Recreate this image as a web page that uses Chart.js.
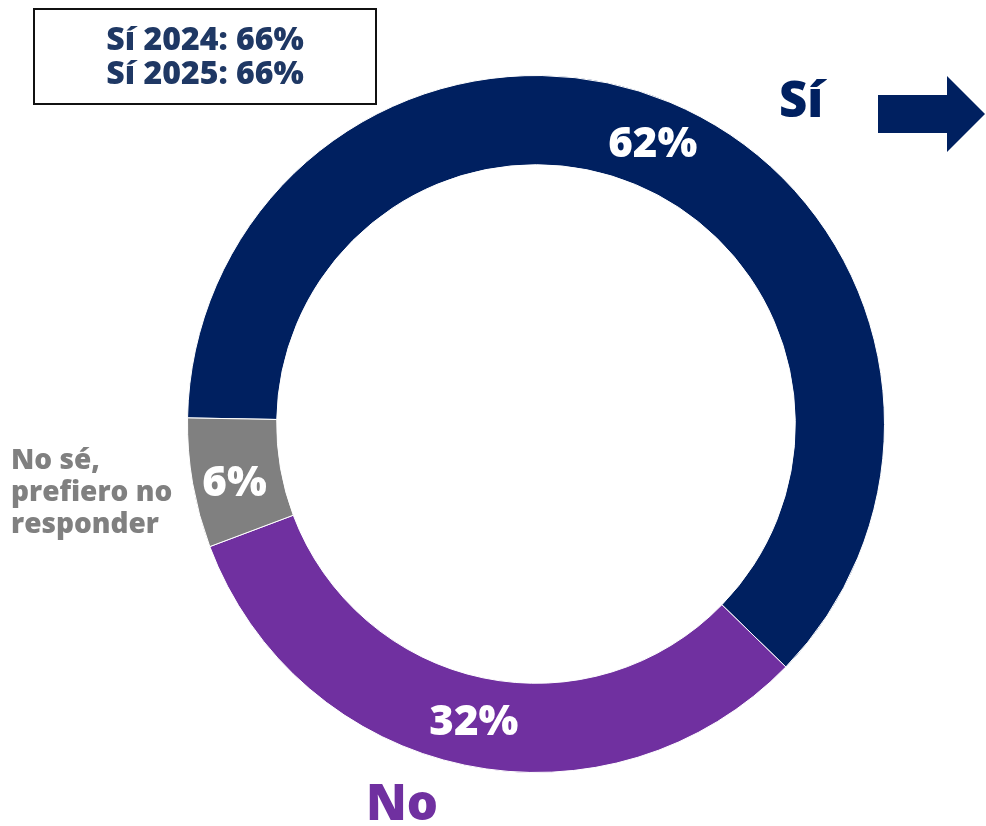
<!DOCTYPE html>
<html>
<head>
<meta charset="utf-8">
<script src="https://cdn.jsdelivr.net/npm/chart.js@4/dist/chart.umd.min.js"></script>
<style>
  html, body { margin: 0; padding: 0; background: #fff; }
  #wrap { position: relative; width: 986px; height: 826px; }
</style>
</head>
<body>
<div id="wrap"><canvas id="donut"></canvas></div>
<script>
const labels = ['Sí', 'No', 'No sé, prefiero no responder'];
const values = [62, 32, 6];
const colors = ['#002060', '#7030A0', '#808080'];
const boxLines = ['Sí 2024: 66%', 'Sí 2025: 66%'];

const FONT = '"Open Sans", "DejaVu Sans", sans-serif';

const overlay = {
  id: 'overlay',
  afterDatasetsDraw(chart) {
    const ctx = chart.ctx;
    const arcs = chart.getDatasetMeta(0).data;
    ctx.save();
    ctx.textAlign = 'center';
    ctx.textBaseline = 'middle';

    // value labels inside the ring
    ctx.fillStyle = '#fff';
    ctx.font = '800 42px ' + FONT;
    arcs.forEach((arc, i) => {
      const p = arc.tooltipPosition();
      const dy = i === 2 ? 8 : 2;
      ctx.fillText(values[i] + '%', p.x - (i === 2 ? 2 : 0), p.y + dy);
    });

    // category names
    ctx.font = '800 49px ' + FONT;
    ctx.fillStyle = colors[0];
    ctx.fillText(labels[0], 801, 103);
    ctx.fillStyle = colors[1];
    ctx.fillText(labels[1], 402, 806);

    ctx.font = '800 28px ' + FONT;
    ctx.fillStyle = colors[2];
    ctx.textAlign = 'left';
    ['No sé,', 'prefiero no', 'responder'].forEach((t, i) => {
      ctx.fillText(t, 11, 461 + i * 32);
    });

    // summary box
    ctx.lineWidth = 2;
    ctx.strokeStyle = '#111';
    ctx.strokeRect(34, 9, 342, 95);
    ctx.textAlign = 'center';
    ctx.fillStyle = '#1F3864';
    ctx.font = '800 32px ' + FONT;
    boxLines.forEach((t, i) => ctx.fillText(t, 205, 41 + i * 34));

    // arrow
    ctx.fillStyle = colors[0];
    ctx.beginPath();
    ctx.moveTo(878, 95);
    ctx.lineTo(947, 95);
    ctx.lineTo(947, 76);
    ctx.lineTo(985, 114);
    ctx.lineTo(947, 152);
    ctx.lineTo(947, 133);
    ctx.lineTo(878, 133);
    ctx.closePath();
    ctx.fill();
    ctx.restore();
  }
};

new Chart(document.getElementById('donut').getContext('2d'), {
  type: 'doughnut',
  data: {
    labels: labels,
    datasets: [{
      data: values,
      backgroundColor: colors,
      borderColor: '#fff',
      borderWidth: 1,
    }],
  },
  options: {
    responsive: true,
    maintainAspectRatio: false,
    animation: false,
    cutout: '74.4%',
    rotation: -89,
    layout: { padding: { left: 187, right: 101, top: 75, bottom: 53 } },
    plugins: {
      legend: { display: false },
      tooltip: { enabled: false },
    },
  },
  plugins: [overlay],
});
</script>
</body>
</html>
